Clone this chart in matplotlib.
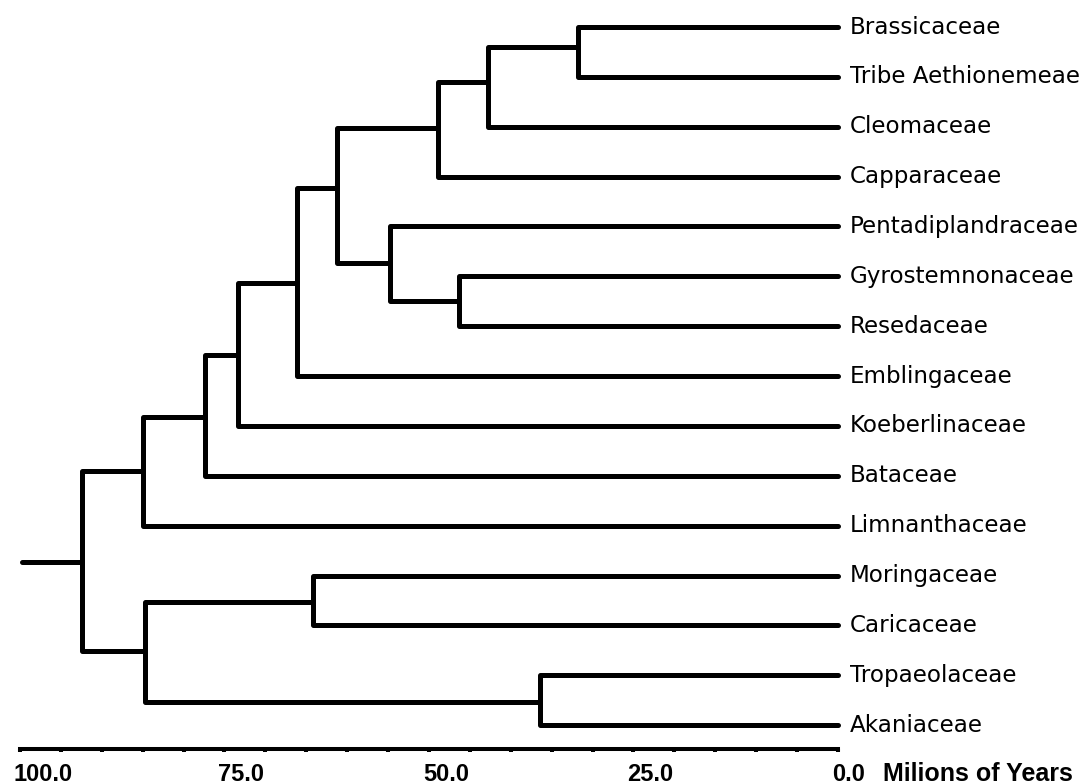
import matplotlib
matplotlib.use("Agg")
import matplotlib.pyplot as plt
from matplotlib.transforms import ScaledTranslation

# leaves, top to bottom
taxa = ["Brassicaceae", "Tribe Aethionemeae", "Cleomaceae", "Capparaceae",
        "Pentadiplandraceae", "Gyrostemnonaceae", "Resedaceae", "Emblingaceae",
        "Koeberlinaceae", "Bataceae", "Limnanthaceae", "Moringaceae",
        "Caricaceae", "Tropaeolaceae", "Akaniaceae"]

# internal nodes: name, children, age (Myr), vertical position (row units)
clade_names = ["c1", "c2", "c3", "c4", "c5", "c6", "c7", "c8", "c9",
               "c10", "c11", "c12", "c13", "root"]
clade_children = [
    ("Brassicaceae", "Tribe Aethionemeae"),
    ("c1", "Cleomaceae"),
    ("c2", "Capparaceae"),
    ("Gyrostemnonaceae", "Resedaceae"),
    ("Pentadiplandraceae", "c4"),
    ("c3", "c5"),
    ("c6", "Emblingaceae"),
    ("c7", "Koeberlinaceae"),
    ("c8", "Bataceae"),
    ("c9", "Limnanthaceae"),
    ("Moringaceae", "Caricaceae"),
    ("Tropaeolaceae", "Akaniaceae"),
    ("c11", "c12"),
    ("c10", "c13"),
]
clade_age = [31.8, 42.8, 48.9, 46.3, 54.8, 61.2, 66.1, 73.3, 77.4, 85.0,
             64.2, 36.4, 84.7, 92.4]
clade_row = [0.40, 1.10, 2.03, 5.50, 4.73, 3.23, 5.13, 6.58, 7.82, 8.90,
             11.53, 13.54, 12.52, 10.73]
root_stem_start = 99.8

major_ticks = [100, 75, 50, 25, 0]
minor_ticks = [95, 90, 85, 80, 70, 65, 60, 55, 45, 40, 35, 30, 20, 15, 10, 5]

fig = plt.figure(figsize=(10.87, 7.84), dpi=100)
ax = fig.add_axes([0, 0, 1, 1])

pos = {name: (0.0, i) for i, name in enumerate(taxa)}
for name, age, row in zip(clade_names, clade_age, clade_row):
    pos[name] = (age, row)

line_kw = dict(color="black", lw=3.6, solid_capstyle="round",
               solid_joinstyle="round")
for name, (a, b) in zip(clade_names, clade_children):
    x0, _ = pos[name]
    xa, ya = pos[a]
    xb, yb = pos[b]
    ax.plot([xa, x0, x0, xb], [ya, ya, yb, yb], **line_kw)

rx, ry = pos["root"]
ax.plot([root_stem_start, rx], [ry, ry], **line_kw)

for i, name in enumerate(taxa):
    ax.annotate(name, (0, i), xytext=(12, 0), textcoords="offset pixels",
                va="center", ha="left", fontsize=16.6, family="DejaVu Sans")

ax.set_xlim(102.44, -30.44)
ax.set_ylim(15.18, -0.5415)

for s in ["left", "right", "top"]:
    ax.spines[s].set_visible(False)
ax.spines["bottom"].set_position(("data", 14.48))
ax.spines["bottom"].set_bounds(0, 100)
ax.spines["bottom"].set_linewidth(2.9)
ax.set_yticks([])

ax.set_xticks(major_ticks)
ax.set_xticklabels([f"{t:.1f}" for t in major_ticks])
ax.set_xticks(minor_ticks, minor=True)
ax.tick_params(axis="x", which="both", direction="out", length=2.2,
               width=2.9, pad=7.5)
shift = ScaledTranslation(-6 / 100, 0, fig.dpi_scale_trans)
for lab in ax.get_xticklabels():
    lab.set_ha("left")
    lab.set_fontsize(17)
    lab.set_fontweight("bold")
    lab.set_family("Liberation Sans")
    lab.set_transform(lab.get_transform() + shift)

fig.text(883 / 1087, 3 / 784, "Milions of Years", ha="left", va="baseline",
         fontsize=18, fontweight="bold", family="Liberation Sans")

fig.savefig("out.png", dpi=100)
